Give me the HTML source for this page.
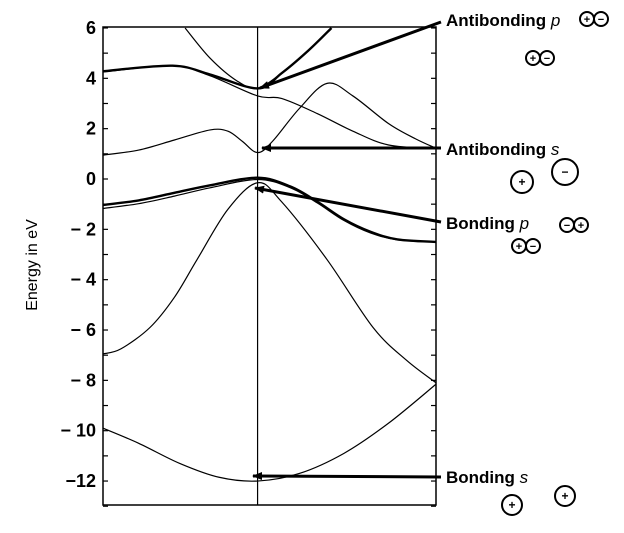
<!DOCTYPE html>
<html><head><meta charset="utf-8"><style>
body{margin:0;background:#fff}
svg{font-family:"Liberation Sans",Arial,sans-serif}
</style></head><body>
<svg id="c" width="624" height="528" viewBox="0 0 624 528">
<defs><marker id="ah" markerWidth="10" markerHeight="8" refX="9" refY="4" orient="auto" markerUnits="userSpaceOnUse"><path d="M0,0 L10,4 L0,8 z" fill="#000"/></marker></defs>
<g id="axes"></g><g id="bands"></g><g id="ann"></g>
</svg>
<script>
const yTicks=[6,4,2,0,-2,-4,-6,-8,-10,-12];
const yTickLabels=["6","4","2","0","\u2212 2","\u2212 4","\u2212 6","\u2212 8","\u2212 10","\u221212"];
const bondingS=[[0,-9.9],[0.2,-10.5],[0.43,-11.3],[0.65,-11.85],[0.866,-12],[1.1,-11.7],[1.35,-10.9],[1.6,-9.7],[1.866,-8.15]];
const band2=[[0,-6.95],[0.1,-6.75],[0.263,-5.9],[0.4,-4.7],[0.527,-3.2],[0.7,-1.2],[0.866,-0.15],[1.0,-0.9],[1.255,-3.2],[1.513,-5.9],[1.7,-7.2],[1.866,-8.1]];
const bondingP1=[[0,-1.03],[0.2,-0.85],[0.4,-0.55],[0.6,-0.25],[0.866,0.05],[1.05,-0.3],[1.2,-0.9],[1.35,-1.6],[1.5,-2.1],[1.65,-2.4],[1.866,-2.5]];
const bondingP2=[[0,-1.17],[0.2,-0.98],[0.4,-0.68],[0.6,-0.35],[0.866,-0.02],[1.05,-0.35],[1.2,-0.95],[1.35,-1.65],[1.5,-2.15],[1.65,-2.42],[1.866,-2.5]];
const antiS=[[0,0.95],[0.2,1.15],[0.4,1.55],[0.6,1.95],[0.7,1.9],[0.78,1.5],[0.866,1.05],[0.95,1.5],[1.1,2.8],[1.255,3.8],[1.4,3.3],[1.6,2.2],[1.75,1.6],[1.866,1.22]];
const band6=[[0,4.25],[0.39,4.5],[0.6,4.1],[0.866,3.3],[1.0,3.2],[1.2,2.6],[1.4,1.9],[1.6,1.35],[1.866,1.2]];
const antiP=[[0,4.28],[0.39,4.5],[0.6,4.15],[0.866,3.6],[1.0,4.2],[1.15,5.1],[1.28,6]];
const parab=[[0.46,6],[0.6,4.8],[0.75,3.9],[0.866,3.6],[1.0,4.2]];
const bands=[["bonding-s-band",bondingS,1.2],["lower-valence-band",band2,1.2],["bonding-p-band-1",bondingP1,2.4],["bonding-p-band-2",bondingP2,1.2],["antibonding-s-band",antiS,1.2],["upper-conduction-band",band6,1.2],["antibonding-p-band",antiP,2.4],["parabolic-band",parab,1.2]];
const X=k=>103+k*178.5, Y=e=>179-e*25.17;
const NS="http://www.w3.org/2000/svg";
function mk(t,a,p,txt){const e=document.createElementNS(NS,t);for(const k in a)e.setAttribute(k,a[k]);if(txt!=null)e.textContent=txt;p.appendChild(e);return e;}
const ax=document.getElementById('axes');
const fr=mk('rect',{x:103,y:27,width:333,height:478,fill:'none',stroke:'#000','stroke-width':1.5},ax);

const gl=mk('line',{x1:X(0.866),y1:27,x2:X(0.866),y2:505,stroke:'#000','stroke-width':1.2},ax);

for(let e=-13;e<=6;e++){mk('line',{x1:103,y1:Y(e),x2:108,y2:Y(e),stroke:'#000','stroke-width':1.2},ax);mk('line',{x1:431,y1:Y(e),x2:436,y2:Y(e),stroke:'#000','stroke-width':1.2},ax);}
yTicks.forEach((v,i)=>{const t=mk('text',{x:96,y:Y(v)+6,'text-anchor':'end','font-size':18,'font-weight':'bold'},ax,yTickLabels[i]);
});
const yt=mk('text',{x:0,y:0,transform:'translate(37,265) rotate(-90)','text-anchor':'middle','font-size':16},ax,'Energy in eV');

function path(pts){const p=pts.map(d=>[X(d[0]),Y(d[1])]);let s='M'+p[0][0]+','+p[0][1];
for(let i=0;i<p.length-1;i++){const p0=p[i-1]||p[i],p1=p[i],p2=p[i+1],p3=p[i+2]||p2;
s+=' C'+(p1[0]+(p2[0]-p0[0])/6)+','+(p1[1]+(p2[1]-p0[1])/6)+' '+(p2[0]-(p3[0]-p1[0])/6)+','+(p2[1]-(p3[1]-p1[1])/6)+' '+p2[0]+','+p2[1];}return s;}
const bg=document.getElementById('bands');
const cp=mk('clipPath',{id:'cp'},bg);mk('rect',{x:103,y:27,width:333,height:478},cp);
bands.forEach(b=>{const p=mk('path',{d:path(b[1]),fill:'none',stroke:'#000','stroke-width':b[2],'clip-path':'url(#cp)'},bg);
});
const an=document.getElementById('ann');
const arrows=[["antibonding-p-arrow",441,22,260,88],["antibonding-s-arrow",441,148,262,148],["bonding-p-arrow",441,222,255,188],["bonding-s-arrow",441,477,253,476]];
arrows.forEach(a=>{const l=mk('line',{x1:a[1],y1:a[2],x2:a[3],y2:a[4],stroke:'#000','stroke-width':3,'marker-end':'url(#ah)'},an);
});
function lbl(name,x,y,main,it){const t=mk('text',{x:x,y:y,'font-size':17,'font-weight':'bold'},an,main);
mk('tspan',{'font-style':'italic','font-weight':'normal'},t,it);}
lbl('antibonding-p-label',446,26,'Antibonding ','p');
lbl('antibonding-s-label',446,155,'Antibonding ','s');
lbl('bonding-p-label',446,229,'Bonding ','p');
lbl('bonding-s-label',446,483,'Bonding ','s');
const orbs=[[587,19,7,'+'],[601,19,7,'\u2212'],[533,58,7,'+'],[547,58,7,'\u2212'],[522,182,11,'+'],[565,172,13,'\u2212'],[567,225,7,'\u2212'],[581,225,7,'+'],[519,246,7,'+'],[533,246,7,'\u2212'],[512,505,10,'+'],[565,496,10,'+']];
orbs.forEach(o=>{const g=mk('g',{},an);
mk('circle',{cx:o[0],cy:o[1],r:o[2],fill:'#fff',stroke:'#000','stroke-width':2},g);
mk('text',{x:o[0],y:o[1]+(o[2]>8?4:4),'text-anchor':'middle','font-size':o[2]>8?12:11,'font-weight':'bold'},g,o[3]);});
</script>
</body></html>
